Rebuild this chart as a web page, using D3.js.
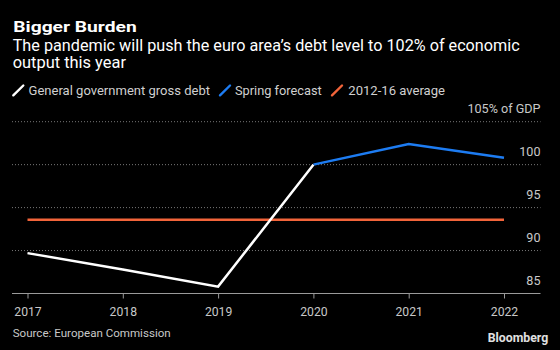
<!DOCTYPE html>
<html><head><meta charset="utf-8">
<script src="https://cdn.jsdelivr.net/npm/d3@7"></script>
<style>
html,body{margin:0;padding:0;background:#000;}
svg{display:block;}
text{font-family:Roboto,"Liberation Sans",sans-serif;}
</style></head>
<body>
<script>
const years = [2017, 2018, 2019, 2020, 2021, 2022];
const debtYears = [2017, 2018, 2019, 2020];
const debtValues = [89.7, 87.8, 85.8, 100.0];
const forecastYears = [2020, 2021, 2022];
const forecastValues = [100.0, 102.4, 100.8];
const averageYears = [2017, 2022];
const averageValues = [93.6, 93.6];
const yTicks = [85, 90, 95, 100, 105];
const yTickLabels = ["85", "90", "95", "100", "105% of GDP"];
const legendLabels = ["General government gross debt", "Spring forecast", "2012-16 average"];
const colors = ["#ffffff", "#1d7cf2", "#f2643a"];

const W = 560, H = 350;
const svg = d3.select("body").append("svg").attr("width", W).attr("height", H);
svg.append("rect").attr("width", W).attr("height", H).attr("fill", "#000");

const x = d3.scaleLinear().domain([2017, 2022]).range([27.5, 504]);
const y = d3.scaleLinear().domain([85, 105]).range([293.5, 121.7]);
const left = 12, right = 540.5;

function fit(sel, len) {
  return sel.attr("textLength", len).attr("lengthAdjust", "spacingAndGlyphs");
}

// titles
fit(svg.append("text").attr("x", 13.3).attr("y", 32.3).attr("fill", "#fff")
  .attr("font-family", "'DejaVu Sans'").attr("font-size", 15).attr("font-weight", "bold")
  .text("Bigger Burden"), 123.4);
fit(svg.append("text").attr("x", 12.7).attr("y", 50.7).attr("fill", "#fff").attr("font-size", 16.2)
  .text("The pandemic will push the euro area\u2019s debt level to 102% of economic"), 507);
fit(svg.append("text").attr("x", 12.7).attr("y", 68.3).attr("fill", "#fff").attr("font-size", 16.2)
  .text("output this year"), 113.3);

// legend
const legSlashX = [13.3, 220, 332];
const legTextX = [28.6, 235, 348.3];
const legTextW = [181.4, 86.7, 96.7];
legendLabels.forEach((t, i) => {
  svg.append("line").attr("x1", legSlashX[i]).attr("y1", 95.3).attr("x2", legSlashX[i] + 10).attr("y2", 85.5)
    .attr("stroke", colors[i]).attr("stroke-width", 2.4).attr("stroke-linecap", "round");
  fit(svg.append("text").attr("x", legTextX[i]).attr("y", 95.3).attr("fill", "#d0d0d0")
    .attr("font-size", 13.3).text(t), legTextW[i]);
});

// gridlines
const gridTicks = yTicks.filter(v => v > 85);
svg.append("g").selectAll("line").data(gridTicks).join("line")
  .attr("x1", left).attr("x2", right).attr("y1", d => y(d)).attr("y2", d => y(d))
  .attr("stroke", "#777").attr("stroke-width", 1).attr("stroke-dasharray", "1,2");

// y labels
svg.append("g").selectAll("text").data(yTicks).join("text")
  .attr("x", right).attr("y", d => y(d) - 8.5).attr("text-anchor", "end")
  .attr("fill", "#c8c8c8").attr("font-size", 12.6)
  .text((d, i) => yTickLabels[i]);

// x axis
const xAxis = d3.axisBottom(x).tickValues(years).tickFormat(d3.format("d")).tickSize(5).tickSizeOuter(0);
const gx = svg.append("g").attr("transform", `translate(0,${y(85)})`).call(xAxis);
gx.select(".domain").remove();
gx.append("line").attr("x1", left).attr("x2", right).attr("stroke", "#9a9a9a").attr("stroke-width", 1);
gx.selectAll(".tick line").attr("stroke", "#9a9a9a").attr("y1", 0).attr("y2", 5);
gx.selectAll(".tick text").attr("fill", "#c8c8c8").attr("font-size", 12.2)
  .attr("font-family", "Roboto").attr("dy", null).attr("y", 22.2);

// lines
const line = d3.line().x(d => x(d[0])).y(d => y(d[1]));
svg.append("path").datum(averageYears.map((v, i) => [v, averageValues[i]]))
  .attr("d", line).attr("fill", "none").attr("stroke", colors[2]).attr("stroke-width", 2.5);
svg.append("path").datum(forecastYears.map((v, i) => [v, forecastValues[i]]))
  .attr("d", line).attr("fill", "none").attr("stroke", colors[1]).attr("stroke-width", 2.5);
svg.append("path").datum(debtYears.map((v, i) => [v, debtValues[i]]))
  .attr("d", line).attr("fill", "none").attr("stroke", colors[0]).attr("stroke-width", 2.5);

// footer
fit(svg.append("text").attr("x", 12.7).attr("y", 337.3).attr("fill", "#c8c8c8").attr("font-size", 11.6)
  .text("Source: European Commission"), 158);
fit(svg.append("text").attr("x", 487.7).attr("y", 342.3).attr("fill", "#e0e0e0")
  .attr("font-size", 12.6).attr("font-weight", "bold").text("Bloomberg"), 60.6);
</script>
</body></html>
